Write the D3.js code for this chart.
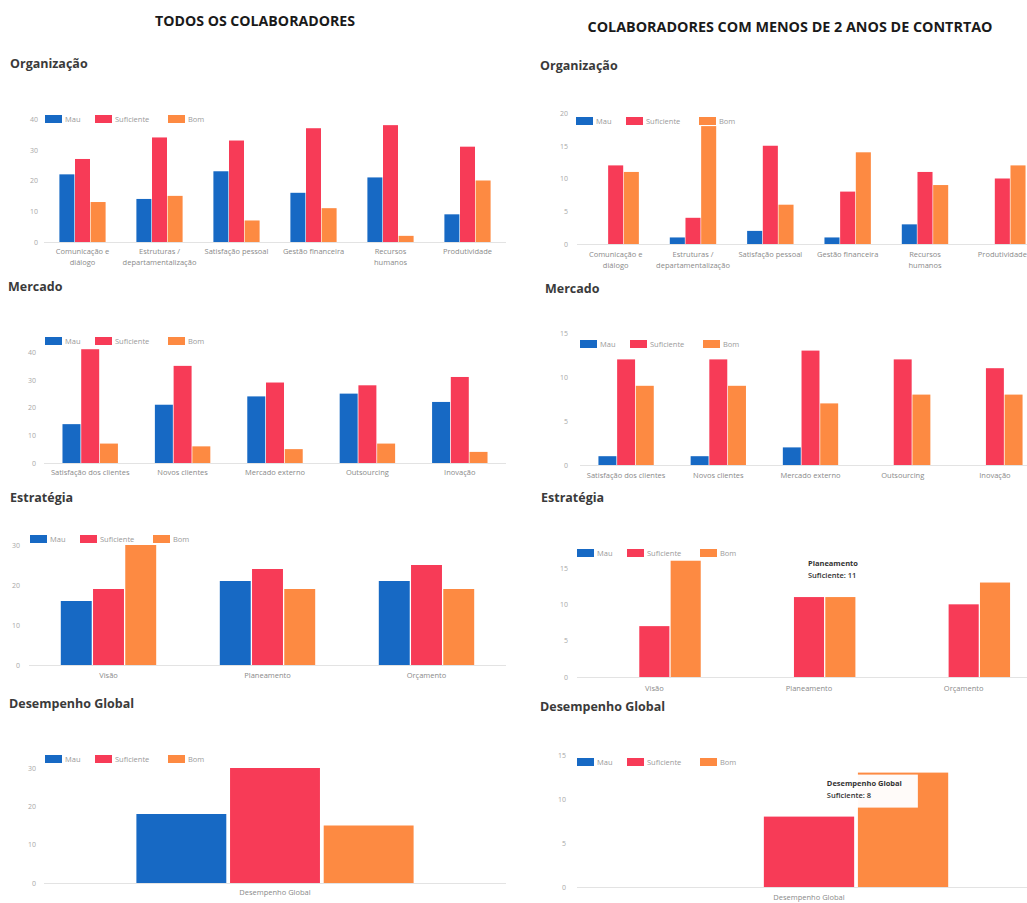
<!DOCTYPE html>
<html>
<head>
<meta charset="utf-8">
<script src="https://cdn.jsdelivr.net/npm/d3@7"></script>
<style>
  html, body { margin: 0; padding: 0; background: #fff; }
  svg { display: block; font-family: "Open Sans", Roboto, sans-serif; }
</style>
</head>
<body>
<script>
// ---------------- DATA ----------------
const seriesNames = ["Mau", "Suficiente", "Bom"];
const seriesColors = ["#1769c4", "#f73b57", "#fd8a42"];

const orgCategories = ["Comunicação e\ndiálogo", "Estruturas /\ndepartamentalização", "Satisfação pessoal", "Gestão financeira", "Recursos\nhumanos", "Produtividade"];
const orgAllMau = [22, 14, 23, 16, 21, 9];
const orgAllSuf = [27, 34, 33, 37, 38, 31];
const orgAllBom = [13, 15, 7, 11, 2, 20];
const orgNewMau = [0, 1, 2, 1, 3, 0];
const orgNewSuf = [12, 4, 15, 8, 11, 10];
const orgNewBom = [11, 18, 6, 14, 9, 12];

const mktCategories = ["Satisfação dos clientes", "Novos clientes", "Mercado externo", "Outsourcing", "Inovação"];
const mktAllMau = [14, 21, 24, 25, 22];
const mktAllSuf = [41, 35, 29, 28, 31];
const mktAllBom = [7, 6, 5, 7, 4];
const mktNewMau = [1, 1, 2, 0, 0];
const mktNewSuf = [12, 12, 13, 12, 11];
const mktNewBom = [9, 9, 7, 8, 8];

const estCategories = ["Visão", "Planeamento", "Orçamento"];
const estAllMau = [16, 21, 21];
const estAllSuf = [19, 24, 25];
const estAllBom = [30, 19, 19];
const estNewMau = [0, 0, 0];
const estNewSuf = [7, 11, 10];
const estNewBom = [16, 11, 13];

const dgCategories = ["Desempenho Global"];
const dgAllMau = [18];
const dgAllSuf = [30];
const dgAllBom = [15];
const dgNewMau = [0];
const dgNewSuf = [8];
const dgNewBom = [13];

const ticksAll40 = [0, 10, 20, 30, 40];
const ticksAll30 = [0, 10, 20, 30];
const ticksNew20 = [0, 5, 10, 15, 20];
const ticksNew15 = [0, 5, 10, 15];

const headerAll = "TODOS OS COLABORADORES";
const headerNew = "COLABORADORES COM MENOS DE 2 ANOS DE CONTRTAO";

// ---------------- DRAW ----------------
const svg = d3.select("body").append("svg").attr("width", 1027).attr("height", 903);

svg.append("text").attr("x", 255).attr("y", 26).attr("text-anchor", "middle")
  .attr("font-size", 13.5).attr("font-weight", 700).attr("fill", "#1a1a1a")
  .attr("textLength", 200).attr("lengthAdjust", "spacingAndGlyphs").text(headerAll);
svg.append("text").attr("x", 790).attr("y", 32).attr("text-anchor", "middle")
  .attr("font-size", 13.5).attr("font-weight", 700).attr("fill", "#1a1a1a")
  .attr("textLength", 405).attr("lengthAdjust", "spacingAndGlyphs").text(headerNew);

function panel(cfg) {
  const g = svg.append("g");
  g.append("text").attr("x", cfg.titleX).attr("y", cfg.titleY)
    .attr("font-size", 12.5).attr("font-weight", 700).attr("fill", "#3a3a3a").text(cfg.title);

  const idx = d3.range(cfg.cats.length);
  const x0 = d3.scaleBand().domain(idx).range(cfg.xRange).paddingInner(0.4).paddingOuter(0.2);
  const x1 = d3.scaleBand().domain(d3.range(3)).range([0, x0.bandwidth()]).paddingInner(0.04);
  const y = d3.scaleLinear().domain([0, d3.max(cfg.ticks)]).range([cfg.yBase, cfg.yTop]);

  // y axis labels
  const ya = g.append("g").attr("transform", `translate(${cfg.tickX},0)`)
    .call(d3.axisLeft(y).tickValues(cfg.ticks).tickSize(0).tickPadding(0));
  ya.select(".domain").remove();
  ya.selectAll("text").attr("font-size", 7).attr("fill", "#a8a8a8").attr("font-family", "Open Sans, sans-serif");

  // baseline
  g.append("line").attr("x1", cfg.xRange[0]).attr("x2", cfg.xRange[1])
    .attr("y1", y(0) + 0.5).attr("y2", y(0) + 0.5).attr("stroke", "#e3e3e3");

  // bars
  const groups = g.selectAll("g.grp").data(idx).join("g").attr("class", "grp")
    .attr("transform", i => `translate(${x0(i)},0)`);
  groups.selectAll("rect").data(i => cfg.values.map((arr, s) => ({ s, v: arr[i] })))
    .join("rect")
    .attr("x", d => x1(d.s)).attr("width", x1.bandwidth())
    .attr("y", d => y(d.v)).attr("height", d => y(0) - y(d.v))
    .attr("fill", d => seriesColors[d.s]);

  // x labels
  const xa = g.append("g").attr("transform", `translate(0,${cfg.yBase})`)
    .call(d3.axisBottom(x0).tickSize(0).tickPadding(0).tickFormat(""));
  xa.select(".domain").remove();
  xa.selectAll(".tick").each(function (i) {
    const lines = cfg.cats[i].split("\n");
    const t = d3.select(this).append("text").attr("fill", "#8a8a8a").attr("font-size", 7.5)
      .attr("text-anchor", "middle").attr("font-family", "Open Sans, sans-serif");
    lines.forEach((ln, k) => t.append("tspan").attr("x", 0).attr("y", cfg.labelDy + k * 11).text(ln));
  });

  // legend
  const offs = [0, 50, 123];
  seriesNames.forEach((n, s) => {
    const lx = cfg.legendX + offs[s];
    g.append("rect").attr("x", lx).attr("y", cfg.legendY - 4).attr("width", 17).attr("height", 8)
      .attr("fill", seriesColors[s]);
    g.append("text").attr("x", lx + 20).attr("y", cfg.legendY + 3).attr("font-size", 7.5)
      .attr("fill", "#9a9a9a").text(n);
  });
  return { x0, x1, y, g };
}

const L = [44, 506], R = [577, 1041];

panel({ title: "Organização", titleX: 10, titleY: 68, cats: orgCategories,
  values: [orgAllMau, orgAllSuf, orgAllBom], xRange: L, yBase: 242, yTop: 119, ticks: ticksAll40,
  tickX: 38, legendX: 45, legendY: 119, labelDy: 12 });
panel({ title: "Organização", titleX: 540, titleY: 70, cats: orgCategories,
  values: [orgNewMau, orgNewSuf, orgNewBom], xRange: R, yBase: 244, yTop: 113, ticks: ticksNew20,
  tickX: 568, legendX: 576, legendY: 121, labelDy: 13 });

panel({ title: "Mercado", titleX: 8, titleY: 291, cats: mktCategories,
  values: [mktAllMau, mktAllSuf, mktAllBom], xRange: L, yBase: 463, yTop: 352, ticks: ticksAll40,
  tickX: 36, legendX: 45, legendY: 341, labelDy: 12 });
panel({ title: "Mercado", titleX: 545, titleY: 293, cats: mktCategories,
  values: [mktNewMau, mktNewSuf, mktNewBom], xRange: [580, 1041], yBase: 465, yTop: 333, ticks: ticksNew15,
  tickX: 568, legendX: 580, legendY: 344, labelDy: 13 });

panel({ title: "Estratégia", titleX: 10, titleY: 502, cats: estCategories,
  values: [estAllMau, estAllSuf, estAllBom], xRange: [29, 506], yBase: 665, yTop: 545, ticks: ticksAll30,
  tickX: 20, legendX: 30, legendY: 539, labelDy: 13 });
const pEst = panel({ title: "Estratégia", titleX: 541, titleY: 502, cats: estCategories,
  values: [estNewMau, estNewSuf, estNewBom], xRange: R, yBase: 677, yTop: 568, ticks: ticksNew15,
  tickX: 568, legendX: 577, legendY: 553, labelDy: 14 });

panel({ title: "Desempenho Global", titleX: 9, titleY: 708, cats: dgCategories,
  values: [dgAllMau, dgAllSuf, dgAllBom], xRange: L, yBase: 883, yTop: 768, ticks: ticksAll30,
  tickX: 36, legendX: 45, legendY: 759, labelDy: 12 });
const pDg = panel({ title: "Desempenho Global", titleX: 540, titleY: 711, cats: dgCategories,
  values: [dgNewMau, dgNewSuf, dgNewBom], xRange: R, yBase: 887, yTop: 755, ticks: ticksNew15,
  tickX: 566, legendX: 577, legendY: 762, labelDy: 13 });

// tooltips (as shown in the reference)
function tooltip(p, catIdx, sIdx, cat, value, dx, dy, w, h) {
  const bx = p.x0(catIdx) + p.x1(sIdx) + dx;
  const by = p.y(value) + dy;
  const tg = svg.append("g");
  tg.append("rect").attr("x", bx - 4).attr("y", by - 11).attr("width", w).attr("height", h)
    .attr("fill", "#fff").attr("opacity", 0.97);
  tg.append("text").attr("x", bx).attr("y", by).attr("font-size", 7.5).attr("font-weight", 700)
    .attr("fill", "#333").text(cat);
  tg.append("text").attr("x", bx).attr("y", by + 12).attr("font-size", 7.5).attr("font-weight", 600)
    .attr("fill", "#333").text(`${seriesNames[sIdx]}:  ${value}`);
}
tooltip(pEst, 1, 1, estCategories[1], estNewSuf[1], 14, -31, 70, 30);
tooltip(pDg, 0, 1, dgCategories[0], dgNewSuf[0], 63, -31, 95, 33);
</script>
</body>
</html>
